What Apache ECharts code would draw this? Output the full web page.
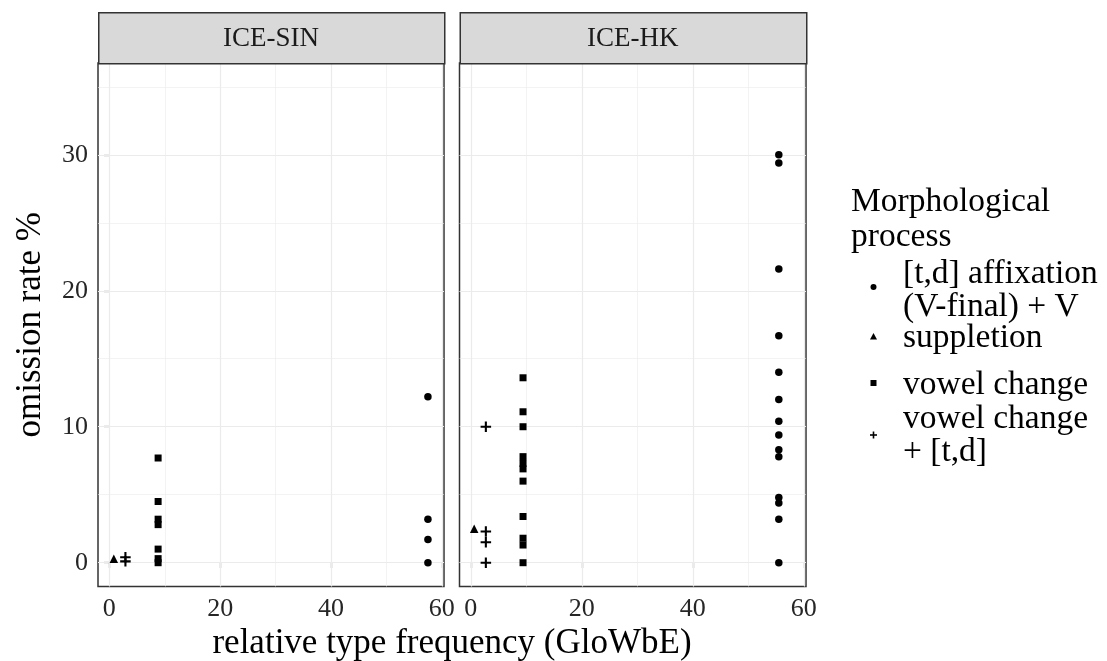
<!DOCTYPE html>
<html>
<head>
<meta charset="utf-8">
<script src="https://cdn.jsdelivr.net/npm/echarts@6/dist/echarts.min.js"></script>
<style>
  html, body { margin: 0; padding: 0; background: #ffffff; }
  #chart { width: 1107px; height: 661px; }
</style>
</head>
<body>
<div id="chart"></div>
<script>
// Panels (facets) and process categories
const panels = ['ICE-SIN', 'ICE-HK'];
const processes = ['[t,d] affixation (V-final) + V', 'suppletion', 'vowel change', 'vowel change + [t,d]'];

// Axis ticks
const xTicks = [0, 20, 40, 60];
const xMinorTicks = [10, 30, 50];
const yTicks = [0, 10, 20, 30];
const yMinorTicks = [5, 15, 25, 35];

// ICE-SIN: relative type frequency (x) and omission rate % (y) per process
const sinAffixX = [57.5, 57.5, 57.5, 57.5];
const sinAffixY = [12.2, 3.2, 1.7, 0];
const sinSuppX = [0.8];
const sinSuppY = [0.3];
const sinVowelX = [8.8, 8.8, 8.8, 8.8, 8.8, 8.8, 8.8];
const sinVowelY = [7.7, 4.5, 3.2, 2.8, 1.0, 0.3, 0];
const sinVowelTdX = [2.9, 2.9];
const sinVowelTdY = [0.4, 0.1];

// ICE-HK
const hkAffixX = [55.5, 55.5, 55.5, 55.5, 55.5, 55.5, 55.5, 55.5, 55.5, 55.5, 55.5, 55.5, 55.5, 55.5];
const hkAffixY = [30.0, 29.4, 21.6, 16.7, 14.0, 12.0, 10.4, 9.4, 8.3, 7.8, 4.8, 4.4, 3.2, 0];
const hkSuppX = [0.6];
const hkSuppY = [2.5];
const hkVowelX = [9.4, 9.4, 9.4, 9.4, 9.4, 9.4, 9.4, 9.4, 9.4, 9.4, 9.4];
const hkVowelY = [13.6, 11.1, 10.0, 7.8, 7.3, 6.9, 6.0, 3.4, 1.8, 1.3, 0];
const hkVowelTdX = [2.7, 2.7, 2.7, 2.7];
const hkVowelTdY = [10.0, 2.3, 1.5, 0];

const FONT = 'Liberation Serif';
const INK = '#1a1a1a';
const AXIS = '#333333';
const GRIDC = '#ebebeb';
const PLUS = 'path://M4,0H6V4H10V6H6V10H4V6H0V4H4Z';

const symbols = ['circle', 'triangle', 'rect', PLUS];
const symbolSizes = [7.5, 8.5, 7, 10.5];

const zip = (xs, ys) => xs.map((x, i) => [x, ys[i]]);
const panelData = [
  [zip(sinAffixX, sinAffixY), zip(sinSuppX, sinSuppY), zip(sinVowelX, sinVowelY), zip(sinVowelTdX, sinVowelTdY)],
  [zip(hkAffixX, hkAffixY), zip(hkSuppX, hkSuppY), zip(hkVowelX, hkVowelY), zip(hkVowelTdX, hkVowelTdY)]
];

// Panel geometry
const panelBoxes = [
  { left: 98, width: 346 },
  { left: 459.5, width: 346.5 }
];
const TOP = 63, HEIGHT = 523.5, STRIP_TOP = 12, STRIP_H = 51;

const grids = panelBoxes.map(b => ({
  left: b.left, top: TOP, width: b.width, height: HEIGHT,
  show: true, borderColor: AXIS, borderWidth: 1.5, backgroundColor: '#ffffff'
}));

const xAxes = panelBoxes.map((b, i) => ({
  type: 'value', gridIndex: i, min: -2.05, max: 60.4,
  axisLine: { show: false },
  splitLine: { show: false },
  axisTick: { show: true, length: 5.5, lineStyle: { color: AXIS, width: 1.2 }, customValues: xTicks },
  axisLabel: { customValues: xTicks, color: '#262626', fontFamily: FONT, fontSize: 26, margin: 10 }
}));

const yAxes = panelBoxes.map((b, i) => ({
  type: 'value', gridIndex: i, min: -1.75, max: 36.75,
  axisLine: { show: false },
  splitLine: { show: false },
  axisTick: { show: i === 0, length: 5.5, lineStyle: { color: AXIS, width: 1.2 }, customValues: yTicks },
  axisLabel: { show: i === 0, customValues: yTicks, color: '#262626', fontFamily: FONT, fontSize: 26, margin: 10 }
}));

const series = [];
panelBoxes.forEach((b, i) => {
  // background grid lines
  const lines = [];
  xTicks.forEach(v => lines.push({ xAxis: v, lineStyle: { width: 1.2 } }));
  xMinorTicks.forEach(v => lines.push({ xAxis: v, lineStyle: { width: 0.6 } }));
  yTicks.forEach(v => lines.push({ yAxis: v, lineStyle: { width: 1.2 } }));
  yMinorTicks.forEach(v => lines.push({ yAxis: v, lineStyle: { width: 0.6 } }));
  series.push({
    type: 'scatter', xAxisIndex: i, yAxisIndex: i, data: [], z: 1, silent: true,
    markLine: {
      silent: true, symbol: ['none', 'none'], animation: false,
      label: { show: false },
      lineStyle: { color: GRIDC, type: 'solid' },
      emphasis: { disabled: true },
      data: lines
    }
  });
  processes.forEach((p, k) => {
    series.push({
      type: 'scatter', name: p, xAxisIndex: i, yAxisIndex: i, z: 5,
      symbol: symbols[k], symbolSize: symbolSizes[k],
      itemStyle: { color: '#000000', opacity: 1 },
      emphasis: { disabled: true },
      data: panelData[i][k]
    });
  });
});

// Facet strips, axis titles and legend
const graphic = [];
panelBoxes.forEach((b, i) => {
  graphic.push({
    type: 'rect', left: b.left, top: STRIP_TOP, z: 10,
    shape: { width: b.width, height: STRIP_H },
    style: { fill: '#d9d9d9', stroke: AXIS, lineWidth: 1.5 }
  });
  graphic.push({
    type: 'text', x: b.left + b.width / 2, y: STRIP_TOP + STRIP_H / 2 + 1, z: 11,
    style: { text: panels[i], fill: INK, font: `27px "${FONT}"`, align: 'center', verticalAlign: 'middle' }
  });
});
graphic.push({
  type: 'text', x: (98 + 806) / 2, y: 644, z: 11,
  style: { text: 'relative type frequency (GloWbE)', fill: '#000', font: `35px "${FONT}"`, align: 'center', verticalAlign: 'middle' }
});
graphic.push({
  type: 'text', x: 31, y: TOP + HEIGHT / 2, rotation: Math.PI / 2, z: 11,
  style: { text: 'omission rate %', fill: '#000', font: `35px "${FONT}"`, align: 'center', verticalAlign: 'middle' }
});

// legend
const LX = 851, SX = 873.5, TX = 903;
const legendFont = `33.5px "${FONT}"`;
const legendLines = [
  ['Morphological', LX, 202], ['process', LX, 237],
  ['[t,d] affixation', TX, 274], ['(V-final) + V', TX, 307],
  ['suppletion', TX, 338],
  ['vowel change', TX, 385],
  ['vowel change', TX, 419], ['+ [t,d]', TX, 452]
];
legendLines.forEach(([t, x, y]) => graphic.push({
  type: 'text', x: x, y: y, z: 11,
  style: { text: t, fill: '#000', font: legendFont, align: 'left', verticalAlign: 'middle' }
}));
graphic.push({ type: 'circle', shape: { cx: SX, cy: 287, r: 3 }, style: { fill: '#000' }, z: 11 });
graphic.push({ type: 'polygon', shape: { points: [[SX, 333], [SX + 3.5, 339.5], [SX - 3.5, 339.5]] }, style: { fill: '#000' }, z: 11 });
graphic.push({ type: 'rect', shape: { x: SX - 3, y: 380, width: 6, height: 6 }, style: { fill: '#000' }, z: 11 });
graphic.push({ type: 'rect', shape: { x: SX - 3.5, y: 434.2, width: 7, height: 1.6 }, style: { fill: '#000' }, z: 11 });
graphic.push({ type: 'rect', shape: { x: SX - 0.8, y: 431.5, width: 1.6, height: 7 }, style: { fill: '#000' }, z: 11 });

const chart = echarts.init(document.getElementById('chart'), null, { renderer: 'canvas' });
chart.setOption({
  animation: false,
  backgroundColor: '#ffffff',
  textStyle: { fontFamily: FONT },
  grid: grids,
  xAxis: xAxes,
  yAxis: yAxes,
  series: series,
  graphic: graphic
});
</script>
</body>
</html>
